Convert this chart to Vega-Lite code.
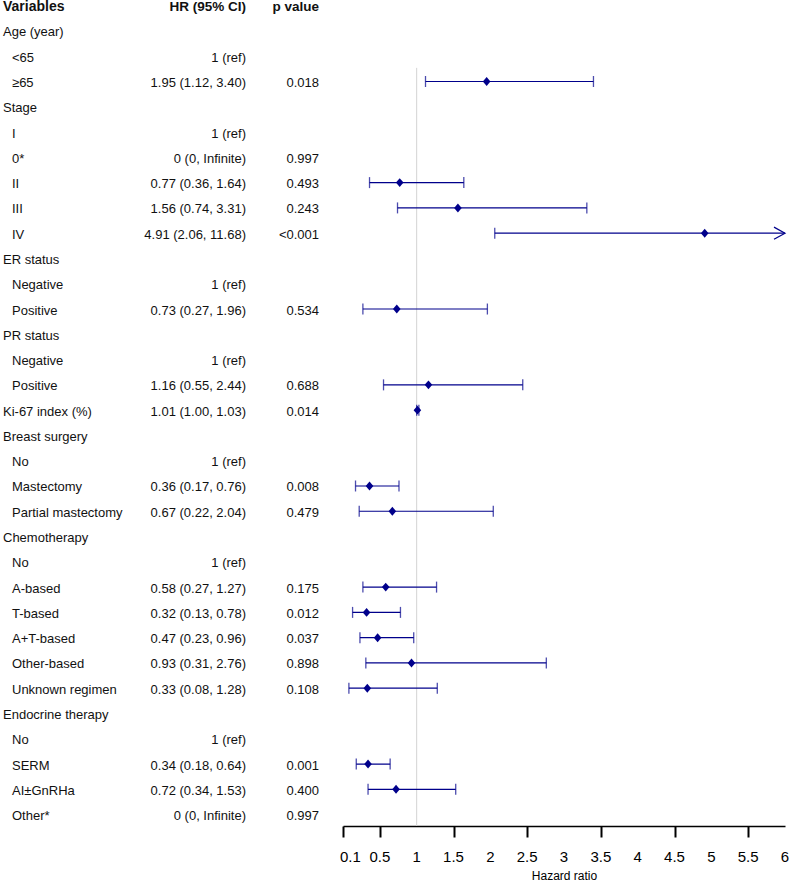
{
  "$schema": "https://vega.github.io/schema/vega-lite/v6.json",
  "background": "white",
  "padding": 0,
  "spacing": 0,
  "config": {"view": {"stroke": null}, "font": "Liberation Sans", "concat": {"spacing": 0}},
  "datasets": {
    "rows": [
      {"row": 1, "level": "group", "label": "Age (year)", "hr": "", "p": ""},
      {"row": 2, "level": "item", "label": "<65", "hr": "1 (ref)", "p": ""},
      {"row": 3, "level": "item", "label": "≥65", "hr": "1.95 (1.12, 3.40)", "p": "0.018", "est": 1.95, "lo": 1.12, "hi": 3.40},
      {"row": 4, "level": "group", "label": "Stage", "hr": "", "p": ""},
      {"row": 5, "level": "item", "label": "I", "hr": "1 (ref)", "p": ""},
      {"row": 6, "level": "item", "label": "0*", "hr": "0 (0, Infinite)", "p": "0.997"},
      {"row": 7, "level": "item", "label": "II", "hr": "0.77 (0.36, 1.64)", "p": "0.493", "est": 0.77, "lo": 0.36, "hi": 1.64},
      {"row": 8, "level": "item", "label": "III", "hr": "1.56 (0.74, 3.31)", "p": "0.243", "est": 1.56, "lo": 0.74, "hi": 3.31},
      {"row": 9, "level": "item", "label": "IV", "hr": "4.91 (2.06, 11.68)", "p": "<0.001", "est": 4.91, "lo": 2.06, "hi": 11.68},
      {"row": 10, "level": "group", "label": "ER status", "hr": "", "p": ""},
      {"row": 11, "level": "item", "label": "Negative", "hr": "1 (ref)", "p": ""},
      {"row": 12, "level": "item", "label": "Positive", "hr": "0.73 (0.27, 1.96)", "p": "0.534", "est": 0.73, "lo": 0.27, "hi": 1.96},
      {"row": 13, "level": "group", "label": "PR status", "hr": "", "p": ""},
      {"row": 14, "level": "item", "label": "Negative", "hr": "1 (ref)", "p": ""},
      {"row": 15, "level": "item", "label": "Positive", "hr": "1.16 (0.55, 2.44)", "p": "0.688", "est": 1.16, "lo": 0.55, "hi": 2.44},
      {"row": 16, "level": "group", "label": "Ki-67 index (%)", "hr": "1.01 (1.00, 1.03)", "p": "0.014", "est": 1.01, "lo": 1.00, "hi": 1.03},
      {"row": 17, "level": "group", "label": "Breast surgery", "hr": "", "p": ""},
      {"row": 18, "level": "item", "label": "No", "hr": "1 (ref)", "p": ""},
      {"row": 19, "level": "item", "label": "Mastectomy", "hr": "0.36 (0.17, 0.76)", "p": "0.008", "est": 0.36, "lo": 0.17, "hi": 0.76},
      {"row": 20, "level": "item", "label": "Partial mastectomy", "hr": "0.67 (0.22, 2.04)", "p": "0.479", "est": 0.67, "lo": 0.22, "hi": 2.04},
      {"row": 21, "level": "group", "label": "Chemotherapy", "hr": "", "p": ""},
      {"row": 22, "level": "item", "label": "No", "hr": "1 (ref)", "p": ""},
      {"row": 23, "level": "item", "label": "A-based", "hr": "0.58 (0.27, 1.27)", "p": "0.175", "est": 0.58, "lo": 0.27, "hi": 1.27},
      {"row": 24, "level": "item", "label": "T-based", "hr": "0.32 (0.13, 0.78)", "p": "0.012", "est": 0.32, "lo": 0.13, "hi": 0.78},
      {"row": 25, "level": "item", "label": "A+T-based", "hr": "0.47 (0.23, 0.96)", "p": "0.037", "est": 0.47, "lo": 0.23, "hi": 0.96},
      {"row": 26, "level": "item", "label": "Other-based", "hr": "0.93 (0.31, 2.76)", "p": "0.898", "est": 0.93, "lo": 0.31, "hi": 2.76},
      {"row": 27, "level": "item", "label": "Unknown regimen", "hr": "0.33 (0.08, 1.28)", "p": "0.108", "est": 0.33, "lo": 0.08, "hi": 1.28},
      {"row": 28, "level": "group", "label": "Endocrine therapy", "hr": "", "p": ""},
      {"row": 29, "level": "item", "label": "No", "hr": "1 (ref)", "p": ""},
      {"row": 30, "level": "item", "label": "SERM", "hr": "0.34 (0.18, 0.64)", "p": "0.001", "est": 0.34, "lo": 0.18, "hi": 0.64},
      {"row": 31, "level": "item", "label": "AI±GnRHa", "hr": "0.72 (0.34, 1.53)", "p": "0.400", "est": 0.72, "lo": 0.34, "hi": 1.53},
      {"row": 32, "level": "item", "label": "Other*", "hr": "0 (0, Infinite)", "p": "0.997"}
    ],
    "header": [
      {"row": 0, "label": "Variables", "hr": "HR (95% CI)", "p": "p value"}
    ],
    "ticks": [
      {"v": 0.1}, {"v": 0.5}, {"v": 1}, {"v": 1.5}, {"v": 2}, {"v": 2.5}, {"v": 3}, {"v": 3.5}, {"v": 4}, {"v": 4.5}, {"v": 5}, {"v": 5.5}, {"v": 6}
    ]
  },
  "hconcat": [
    {
      "width": 339,
      "height": 826,
      "data": {"name": "rows"},
      "encoding": {
        "y": {"field": "row", "type": "quantitative", "scale": {"domain": [-0.224, 32.45], "reverse": true, "nice": false, "zero": false}, "axis": null}
      },
      "layer": [
        {
          "transform": [{"filter": "datum.level == 'group'"}],
          "mark": {"type": "text", "align": "left", "baseline": "middle", "fontSize": 13, "dy": 1.5, "color": "#111"},
          "encoding": {"x": {"value": 3}, "text": {"field": "label"}}
        },
        {
          "transform": [{"filter": "datum.level == 'item'"}],
          "mark": {"type": "text", "align": "left", "baseline": "middle", "fontSize": 13, "dy": 1.5, "color": "#111"},
          "encoding": {"x": {"value": 12}, "text": {"field": "label"}}
        },
        {
          "mark": {"type": "text", "align": "right", "baseline": "middle", "fontSize": 13, "dy": 1.5, "color": "#111"},
          "encoding": {"x": {"value": 246}, "text": {"field": "hr"}}
        },
        {
          "mark": {"type": "text", "align": "right", "baseline": "middle", "fontSize": 13, "dy": 1.5, "color": "#111"},
          "encoding": {"x": {"value": 319}, "text": {"field": "p"}}
        },
        {
          "data": {"name": "header"},
          "mark": {"type": "text", "align": "left", "baseline": "middle", "fontSize": 14, "fontWeight": "bold", "dy": 1.5, "color": "#111"},
          "encoding": {"x": {"value": 3}, "text": {"field": "label"}}
        },
        {
          "data": {"name": "header"},
          "mark": {"type": "text", "align": "right", "baseline": "middle", "fontSize": 13.5, "fontWeight": "bold", "dy": 1.5, "color": "#111"},
          "encoding": {"x": {"value": 246}, "text": {"field": "hr"}}
        },
        {
          "data": {"name": "header"},
          "mark": {"type": "text", "align": "right", "baseline": "middle", "fontSize": 13.5, "fontWeight": "bold", "dy": 1.5, "color": "#111"},
          "encoding": {"x": {"value": 319}, "text": {"field": "p"}}
        }
      ]
    },
    {
      "width": 442,
      "height": 826,
      "data": {"name": "rows"},
      "layer": [
        {
          "data": {"values": [{"ref": 1, "top": 2.46, "bottom": 32.45}]},
          "mark": {"type": "rule", "color": "#d3d3d3", "strokeWidth": 1},
          "encoding": {
            "x": {"field": "ref", "type": "quantitative", "scale": {"domain": [0, 6], "nice": false, "zero": false, "clamp": true},
              "axis": {"values": [0, 0.1, 0.5, 1, 1.5, 2, 2.5, 3, 3.5, 4, 4.5, 5, 5.5, 6], "labels": false, "grid": false, "domainColor": "#000", "domainWidth": 1.5, "tickColor": "#000", "tickWidth": 2, "tickSize": 11, "title": "Hazard ratio", "titleFontSize": 12, "titleFontWeight": "normal", "titleColor": "#000", "titlePadding": 32}},
            "y": {"field": "top", "type": "quantitative", "scale": {"domain": [-0.224, 32.45], "reverse": true, "nice": false, "zero": false}, "axis": null},
            "y2": {"field": "bottom"}
          }
        },
        {
          "data": {"name": "ticks"},
          "mark": {"type": "text", "align": "center", "baseline": "middle", "fontSize": 15, "color": "#000"},
          "encoding": {
            "x": {"field": "v", "type": "quantitative"},
            "y": {"datum": 33.68},
            "text": {"field": "v", "type": "quantitative", "format": "~g"}
          }
        },
        {
          "transform": [{"filter": "isValid(datum.est)"}],
          "mark": {"type": "rule", "color": "#00008B", "strokeWidth": 1.2},
          "encoding": {
            "x": {"field": "lo", "type": "quantitative"},
            "x2": {"field": "hi"},
            "y": {"field": "row", "type": "quantitative"}
          }
        },
        {
          "transform": [{"filter": "isValid(datum.est)"}],
          "mark": {"type": "tick", "orient": "vertical", "color": "#00008B", "size": 11, "thickness": 1.3},
          "encoding": {
            "x": {"field": "lo", "type": "quantitative"},
            "y": {"field": "row", "type": "quantitative"}
          }
        },
        {
          "transform": [{"filter": "isValid(datum.est) && datum.hi <= 6"}],
          "mark": {"type": "tick", "orient": "vertical", "color": "#00008B", "size": 11, "thickness": 1.3},
          "encoding": {
            "x": {"field": "hi", "type": "quantitative"},
            "y": {"field": "row", "type": "quantitative"}
          }
        },
        {
          "transform": [{"filter": "isValid(datum.est) && datum.hi > 6"}],
          "mark": {"type": "point", "shape": "M-1,-0.55L0,0L-1,0.55", "filled": false, "stroke": "#00008B", "strokeWidth": 1.2, "size": 484, "opacity": 1},
          "encoding": {
            "x": {"field": "hi", "type": "quantitative"},
            "y": {"field": "row", "type": "quantitative"}
          }
        },
        {
          "transform": [{"filter": "isValid(datum.est)"}],
          "mark": {"type": "point", "shape": "M-0.85,0L0,-1L0.85,0L0,1Z", "filled": true, "color": "#00008B", "size": 80, "opacity": 1},
          "encoding": {
            "x": {"field": "est", "type": "quantitative"},
            "y": {"field": "row", "type": "quantitative"}
          }
        }
      ]
    }
  ]
}
